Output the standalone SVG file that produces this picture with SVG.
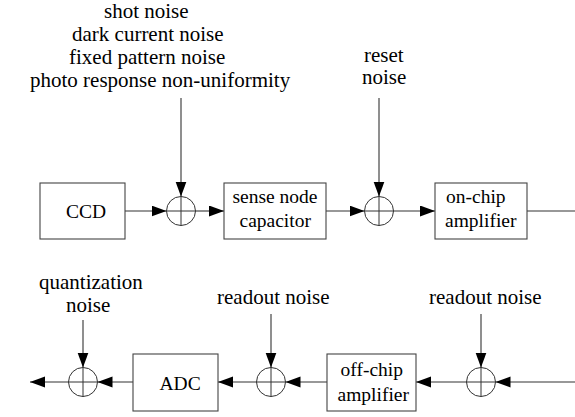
<svg xmlns="http://www.w3.org/2000/svg" width="575" height="417" viewBox="0 0 575 417">
  <defs>
    <marker id="ah" markerUnits="userSpaceOnUse" markerWidth="16" markerHeight="12" refX="15" refY="5.5" orient="auto">
      <path d="M0,0 L15,5.5 L0,11 Z" fill="#000"/>
    </marker>
  </defs>
  <rect width="575" height="417" fill="#fff"/>

  <!-- labels -->
  <g id="label-top">
    <text x="104" y="17.5" style="font-family: 'Liberation Serif', serif; font-size: 21px">shot noise</text>
    <text x="72" y="40.5" style="font-family: 'Liberation Serif', serif; font-size: 21px">dark current noise</text>
    <text x="69" y="64" style="font-family: 'Liberation Serif', serif; font-size: 21px">fixed pattern noise</text>
    <text x="30" y="87" style="font-family: 'Liberation Serif', serif; font-size: 21px">photo response non-uniformity</text>
  </g>
  <g id="label-reset">
    <text x="364" y="62" style="font-family: 'Liberation Serif', serif; font-size: 21px">reset</text>
    <text x="362" y="84" style="font-family: 'Liberation Serif', serif; font-size: 21px">noise</text>
  </g>
  <g id="label-quant">
    <text x="39" y="289" style="font-family: 'Liberation Serif', serif; font-size: 21px">quantization</text>
    <text x="66" y="312" style="font-family: 'Liberation Serif', serif; font-size: 21px">noise</text>
  </g>
  <g id="label-readout1">
    <text x="217" y="304" style="font-family: 'Liberation Serif', serif; font-size: 21px">readout noise</text>
  </g>
  <g id="label-readout2">
    <text x="429" y="304" style="font-family: 'Liberation Serif', serif; font-size: 21px">readout noise</text>
  </g>

  <!-- connectors -->
  <g id="connectors" stroke="#333" stroke-width="1.1" marker-end="url(#ah)">
    <line x1="125" y1="211" x2="166.5" y2="211"/>
    <line x1="181" y1="98" x2="181" y2="196.5"/>
    <line x1="195.5" y1="211" x2="224" y2="211"/>
    <line x1="326" y1="211" x2="364.5" y2="211"/>
    <line x1="379" y1="98" x2="379" y2="196.5"/>
    <line x1="393.5" y1="211" x2="435" y2="211"/>
    <line x1="527" y1="211" x2="575" y2="211" marker-end="none"/>

    <line x1="575" y1="382" x2="495.5" y2="382"/>
    <line x1="481" y1="314" x2="481" y2="367.5"/>
    <line x1="466.5" y1="382" x2="416" y2="382"/>
    <line x1="327" y1="382" x2="285.5" y2="382"/>
    <line x1="271" y1="314" x2="271" y2="367.5"/>
    <line x1="256.5" y1="382" x2="218" y2="382"/>
    <line x1="133" y1="382" x2="97.5" y2="382"/>
    <line x1="83" y1="320" x2="83" y2="367.5"/>
    <line x1="68.5" y1="382" x2="30" y2="382"/>
  </g>

  <!-- nodes -->
  <g id="ccd">
    <rect x="40" y="183" width="85" height="56" fill="#fff" stroke="#444" stroke-width="1.1"/>
    <text x="66" y="218" style="font-family: 'Liberation Serif', serif; font-size: 19.5px">CCD</text>
  </g>
  <g id="sum1" fill="none" stroke="#333" stroke-width="1">
    <circle cx="181" cy="211" r="14.5"/>
    <line x1="166.5" y1="211" x2="195.5" y2="211"/>
    <line x1="181" y1="196.5" x2="181" y2="225.5"/>
  </g>
  <g id="sense-node">
    <rect x="224" y="183" width="102" height="56" fill="#fff" stroke="#444" stroke-width="1.1"/>
    <text x="232.5" y="203" style="font-family: 'Liberation Serif', serif; font-size: 19.5px">sense node</text>
    <text x="239.5" y="227" style="font-family: 'Liberation Serif', serif; font-size: 19.5px">capacitor</text>
  </g>
  <g id="sum2" fill="none" stroke="#333" stroke-width="1">
    <circle cx="379" cy="211" r="14.5"/>
    <line x1="364.5" y1="211" x2="393.5" y2="211"/>
    <line x1="379" y1="196.5" x2="379" y2="225.5"/>
  </g>
  <g id="on-chip">
    <rect x="435" y="183" width="92" height="56" fill="#fff" stroke="#444" stroke-width="1.1"/>
    <text x="446" y="203" style="font-family: 'Liberation Serif', serif; font-size: 19.5px">on-chip</text>
    <text x="445" y="227" style="font-family: 'Liberation Serif', serif; font-size: 19.5px">amplifier</text>
  </g>
  <g id="sum5" fill="none" stroke="#333" stroke-width="1">
    <circle cx="481" cy="382" r="14.5"/>
    <line x1="466.5" y1="382" x2="495.5" y2="382"/>
    <line x1="481" y1="367.5" x2="481" y2="396.5"/>
  </g>
  <g id="off-chip">
    <rect x="327" y="354" width="89" height="57" fill="#fff" stroke="#444" stroke-width="1.1"/>
    <text x="340.5" y="376" style="font-family: 'Liberation Serif', serif; font-size: 19.5px">off-chip</text>
    <text x="337.5" y="401" style="font-family: 'Liberation Serif', serif; font-size: 19.5px">amplifier</text>
  </g>
  <g id="sum4" fill="none" stroke="#333" stroke-width="1">
    <circle cx="271" cy="382" r="14.5"/>
    <line x1="256.5" y1="382" x2="285.5" y2="382"/>
    <line x1="271" y1="367.5" x2="271" y2="396.5"/>
  </g>
  <g id="adc">
    <rect x="133" y="354" width="85" height="57" fill="#fff" stroke="#444" stroke-width="1.1"/>
    <text x="159.5" y="390" style="font-family: 'Liberation Serif', serif; font-size: 19.5px">ADC</text>
  </g>
  <g id="sum3" fill="none" stroke="#333" stroke-width="1">
    <circle cx="83" cy="382" r="14.5"/>
    <line x1="68.5" y1="382" x2="97.5" y2="382"/>
    <line x1="83" y1="367.5" x2="83" y2="396.5"/>
  </g>
</svg>
